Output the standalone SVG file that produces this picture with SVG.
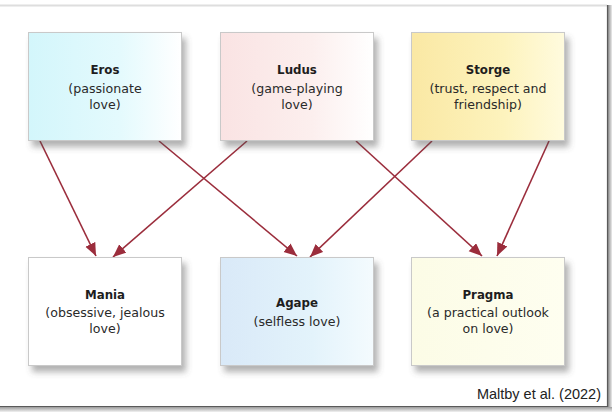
<svg xmlns="http://www.w3.org/2000/svg" width="612" height="412" viewBox="0 0 612 412">
<defs>
<style>
.box{stroke:#c9c9c9;stroke-width:1;filter:url(#sh)}
.t{font-family:"DejaVu Sans",Verdana,sans-serif;font-size:11.8px;font-weight:bold;fill:#1e1e1e;text-anchor:middle}
.s{font-family:"DejaVu Sans",Verdana,sans-serif;font-size:12.6px;fill:#2a2a2a;text-anchor:middle}
.c{stroke:#9b2d3c;stroke-width:1.6;fill:none;marker-end:url(#ah)}
</style>
<filter id="sh" x="-10%" y="-10%" width="130%" height="135%">
<feDropShadow dx="4" dy="6" stdDeviation="3" flood-color="#555" flood-opacity="0.45"/>
</filter>
<marker id="ah" markerUnits="userSpaceOnUse" markerWidth="14" markerHeight="12" refX="13" refY="5.5" orient="auto">
<path d="M0,0 L13,5.5 L0,11 z" fill="#9b2d3c"/>
</marker>
<linearGradient id="gEros" x1="0" x2="1" y1="0" y2="0"><stop offset="0" stop-color="#d3f6fb"/><stop offset="0.6" stop-color="#e4fafd"/><stop offset="1" stop-color="#ffffff"/></linearGradient>
<linearGradient id="gLudus" x1="0" x2="1" y1="0" y2="0"><stop offset="0" stop-color="#fae3e3"/><stop offset="0.6" stop-color="#fcefee"/><stop offset="1" stop-color="#ffffff"/></linearGradient>
<linearGradient id="gStorge" x1="0" x2="1" y1="0" y2="0"><stop offset="0" stop-color="#fae8a4"/><stop offset="0.6" stop-color="#fdf3bd"/><stop offset="1" stop-color="#fffbde"/></linearGradient>
<linearGradient id="gAgape" x1="0" x2="1" y1="0" y2="0"><stop offset="0" stop-color="#d9e9f8"/><stop offset="0.6" stop-color="#e3f3fb"/><stop offset="1" stop-color="#f4fbfe"/></linearGradient>
<linearGradient id="gPragma" x1="0" x2="1" y1="0" y2="0"><stop offset="0" stop-color="#fcfce6"/><stop offset="1" stop-color="#fefef0"/></linearGradient>
<linearGradient id="gRight" x1="0" x2="1" y1="0" y2="0"><stop offset="0" stop-color="#8a8a8a"/><stop offset="1" stop-color="#ececec"/></linearGradient>
<linearGradient id="gBottom" x1="0" x2="0" y1="0" y2="1"><stop offset="0" stop-color="#9a9a9a"/><stop offset="1" stop-color="#f2f2f2"/></linearGradient>
</defs>
<rect x="0" y="0" width="612" height="412" fill="#ffffff"/>
<g id="frame">
<rect x="608" y="5" width="4" height="407" fill="url(#gRight)"/>
<rect x="0" y="407" width="612" height="5" fill="url(#gBottom)"/>
<line x1="0" y1="5.5" x2="607" y2="5.5" stroke="#dedede" stroke-width="2"/>
<line x1="607.5" y1="5" x2="607.5" y2="407" stroke="#5a5a5a" stroke-width="1.2"/>
<line x1="0" y1="406.5" x2="608" y2="406.5" stroke="#5a5a5a" stroke-width="1.2"/>
</g>
<g id="connectors">
<line class="c" x1="40" y1="141" x2="96" y2="256"/>
<line class="c" x1="159" y1="141" x2="297" y2="256"/>
<line class="c" x1="247" y1="141" x2="113" y2="257"/>
<line class="c" x1="356" y1="141" x2="482" y2="256"/>
<line class="c" x1="432" y1="141" x2="310" y2="257"/>
<line class="c" x1="549" y1="141" x2="497" y2="256"/>
</g>
<g id="eros">
<rect class="box" x="28.5" y="32.5" width="153" height="108" fill="url(#gEros)"/>
<text class="t" x="105" y="73.5">Eros</text>
<text class="s" x="105" y="92.5">(passionate</text>
<text class="s" x="105" y="108.5">love)</text>
</g>
<g id="ludus">
<rect class="box" x="220.5" y="32.5" width="153" height="108" fill="url(#gLudus)"/>
<text class="t" x="297" y="73.5">Ludus</text>
<text class="s" x="297" y="92.5">(game-playing</text>
<text class="s" x="297" y="108.5">love)</text>
</g>
<g id="storge">
<rect class="box" x="411.5" y="32.5" width="153" height="108" fill="url(#gStorge)"/>
<text class="t" x="488" y="73.5">Storge</text>
<text class="s" x="488" y="92.5">(trust, respect and</text>
<text class="s" x="488" y="108.5">friendship)</text>
</g>
<g id="mania">
<rect class="box" x="28.5" y="257.5" width="153" height="108" fill="#ffffff"/>
<text class="t" x="105" y="298.5">Mania</text>
<text class="s" x="105" y="317">(obsessive, jealous</text>
<text class="s" x="105" y="333">love)</text>
</g>
<g id="agape">
<rect class="box" x="220.5" y="257.5" width="153" height="108" fill="url(#gAgape)"/>
<text class="t" x="297" y="307">Agape</text>
<text class="s" x="297" y="325.5">(selfless love)</text>
</g>
<g id="pragma">
<rect class="box" x="411.5" y="257.5" width="153" height="108" fill="url(#gPragma)"/>
<text class="t" x="488" y="298.5">Pragma</text>
<text class="s" x="488" y="317">(a practical outlook</text>
<text class="s" x="488" y="333">on love)</text>
</g>
<text x="601" y="399" font-family="'Liberation Sans',Arial,sans-serif" font-size="14.5" fill="#222" text-anchor="end">Maltby et al. (2022)</text>
</svg>
